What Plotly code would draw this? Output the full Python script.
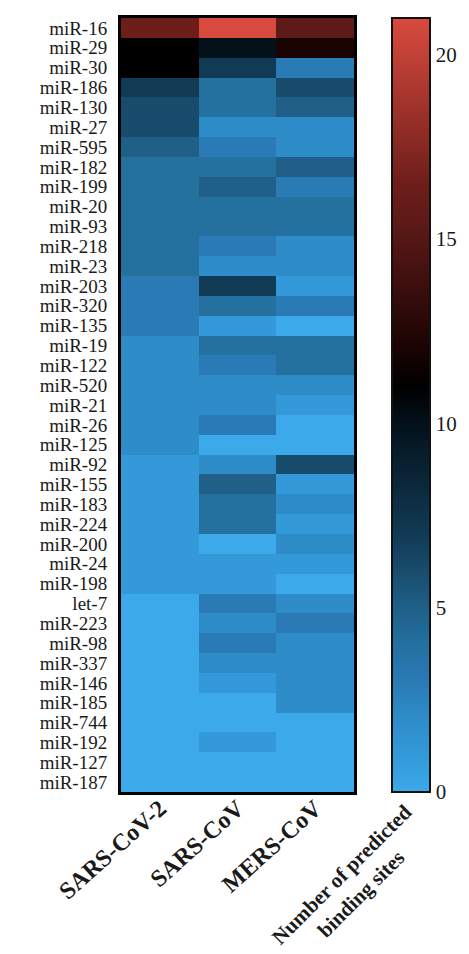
import plotly.graph_objects as go

mirnas = ["miR-16", "miR-29", "miR-30", "miR-186", "miR-130", "miR-27", "miR-595",
          "miR-182", "miR-199", "miR-20", "miR-93", "miR-218", "miR-23", "miR-203",
          "miR-320", "miR-135", "miR-19", "miR-122", "miR-520", "miR-21", "miR-26",
          "miR-125", "miR-92", "miR-155", "miR-183", "miR-224", "miR-200", "miR-24",
          "miR-198", "let-7", "miR-223", "miR-98", "miR-337", "miR-146", "miR-185",
          "miR-744", "miR-192", "miR-127", "miR-187"]

viruses = ["SARS-CoV-2", "SARS-CoV", "MERS-CoV"]

sars_cov2 = [16.5, 11, 11, 7, 6, 6, 5, 4, 4, 4, 4, 4, 4, 3, 3, 3, 2, 2, 2, 2, 2, 2,
             1, 1, 1, 1, 1, 1, 1, 0, 0, 0, 0, 0, 0, 0, 0, 0, 0]
sars_cov = [21, 10, 7, 4, 4, 2, 3, 4, 5, 4, 4, 3, 2, 7, 4, 1, 4, 3, 2, 2, 3, 0,
            2, 5, 4, 4, 0, 1, 1, 3, 2, 3, 2, 1, 0, 0, 1, 0, 0]
mers_cov = [15.5, 12, 3, 6, 5, 2, 2, 5, 3, 4, 4, 2, 2, 1, 3, 0, 4, 4, 2, 1, 0, 0,
            6, 1, 2, 1, 2, 1, 0, 2, 3, 2, 2, 2, 2, 0, 0, 0, 0]

cb_ticks = [0, 5, 10, 15, 20]

z = [list(r) for r in zip(sars_cov2, sars_cov, mers_cov)]

zmax = 21.0
stops = [(0, "#3CAAEA"), (1, "#3399D8"), (2, "#2E8CC8"), (3, "#2A7AB5"),
         (4, "#24709F"), (5, "#1F5F88"), (6, "#184C6C"), (7, "#113A55"),
         (10, "#03111A"), (11, "#000000"), (12, "#1A0303"), (15.5, "#5E1A18"),
         (16.5, "#6E1E1A"), (21, "#D94A3E")]
colorscale = [[v / zmax, c] for v, c in stops]

serif = "Liberation Serif"

# The page body has an 8px margin, so the figure is drawn 8px right/down.
OFF = 8
W, H = 469 - OFF, 954 - OFF
# plot area in page pixels: x 121..354, y 15..792
ML = 121 - OFF
MR = W - (354 - OFF)
MT = 15 - OFF
MB = H - (792 - OFF)
pw = W - ML - MR
ph = H - MT - MB


def px_x(page_x):
    return (page_x - OFF - ML) / pw


def px_y(page_y):
    return (H - MB - (page_y - OFF)) / ph


cb_left = 392   # page px
cb_thick = 38

fig = go.Figure(go.Heatmap(
    z=z, x=viruses, y=mirnas, zmin=0, zmax=zmax, colorscale=colorscale,
    xgap=0, ygap=0,
    colorbar=dict(
        x=px_x(cb_left), xanchor="left", xref="paper",
        y=0.5, yanchor="middle", len=1.0, lenmode="fraction",
        thickness=cb_thick, thicknessmode="pixels",
        outlinewidth=2, outlinecolor="#111",
        tickvals=cb_ticks, ticks="",
        tickfont=dict(family=serif, size=21, color="#1a1a1a"),
        xpad=0, ypad=0,
    ),
))

shapes = []
# colorbar inner tick marks on both sides
for v in cb_ticks[1:]:
    col = "#222" if v >= 15 else "#9aa4ad"
    yv = v / zmax
    shapes.append(dict(type="line", xref="paper", yref="paper",
                       x0=px_x(cb_left + 1), x1=px_x(cb_left + 6), y0=yv, y1=yv,
                       line=dict(color=col, width=2)))
    shapes.append(dict(type="line", xref="paper", yref="paper",
                       x0=px_x(cb_left + cb_thick - 6), x1=px_x(cb_left + cb_thick - 1),
                       y0=yv, y1=yv, line=dict(color=col, width=2)))
# small white chevron at the bottom of the colorbar
shapes.append(dict(type="path", xref="paper", yref="paper",
                   path="M %f,%f L %f,%f L %f,%f" % (px_x(409), px_y(789), px_x(420), px_y(778),
                                                     px_x(430), px_y(787)),
                   line=dict(color="rgba(255,255,255,0.75)", width=1.5)))

fig.update_layout(
    width=W, height=H,
    margin=dict(l=ML, r=MR, t=MT, b=MB),
    paper_bgcolor="white", plot_bgcolor="white",
    font=dict(family=serif, color="#1a1a1a"),
    shapes=shapes,
    annotations=[dict(
        text="<b>Number of predicted<br>binding sites</b>",
        x=px_x(351), y=px_y(885), xref="paper", yref="paper",
        showarrow=False, textangle=-45,
        font=dict(family=serif, size=21, color="#1a1a1a"),
        xanchor="center", yanchor="middle",
    )],
)

fig.update_xaxes(
    showline=True, mirror=True, linewidth=3, linecolor="#000",
    tickangle=-42, ticks="", ticklabelstandoff=-10,
    tickvals=viruses, ticktext=["<b>%s</b>" % v for v in viruses],
    tickfont=dict(family=serif, size=24, color="#1a1a1a"),
    showgrid=False, zeroline=False,
)
fig.update_yaxes(
    autorange="reversed", tickmode="array", tickvals=mirnas, ticktext=mirnas,
    showline=True, mirror=True, linewidth=3, linecolor="#000",
    ticks="outside", ticklen=7, tickcolor="rgba(0,0,0,0)",
    tickfont=dict(family=serif, size=19, color="#1a1a1a"),
    showgrid=False, zeroline=False,
)

fig.write_html("out.html")
